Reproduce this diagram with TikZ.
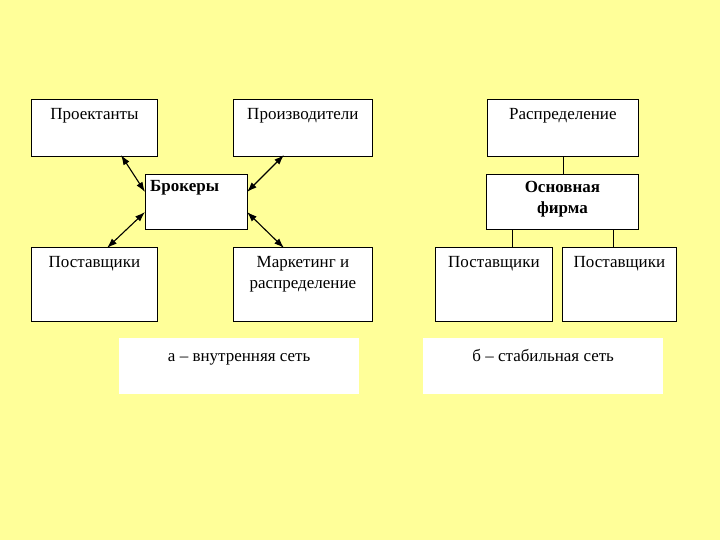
\documentclass[tikz,border=0pt]{standalone}
\usepackage{fontspec}
\setmainfont{Liberation Serif}
\usetikzlibrary{arrows.meta}
\begin{document}
\begin{tikzpicture}[x=1pt,y=-1pt,
  box/.style={draw,fill=white,line width=0.8pt,anchor=north west,inner sep=0pt},
  lbl/.style={font=\fontsize{17}{21}\selectfont,align=center,anchor=north,inner sep=0pt},
  wbox/.style={fill=white,anchor=north west,inner sep=0pt},
  conn/.style={line width=1.1pt,{Latex[length=10pt,width=7pt]}-{Latex[length=10pt,width=7pt]}},
  ln/.style={line width=0.8pt}]
\fill[fill={rgb,255:red,255;green,255;blue,153}] (0,0) rectangle (720,540);
\useasboundingbox (0,0) rectangle (720,540);
% left
\node[box,minimum width=126,minimum height=57] (pr) at (31,99) {};
\node[lbl] (prt) at ([yshift=-9]pr.north) {Проектанты};
\node[box,minimum width=139,minimum height=57] (pd) at (233,99) {};
\node[lbl] (pdt) at ([yshift=-9]pd.north) {Производители};
\node[box,minimum width=102,minimum height=55] (br) at (145,174) {};
\node[lbl,font=\fontsize{17}{21}\selectfont\bfseries,anchor=north west] (brt) at (150,180) {Брокеры};
\node[box,minimum width=126,minimum height=74] (ps) at (31,247) {};
\node[lbl] (pst) at ([yshift=-9]ps.north) {Поставщики};
\node[box,minimum width=139,minimum height=74] (mk) at (233,247) {};
\node[lbl] (mkt) at ([yshift=-9]mk.north) {Маркетинг и\\распределение};
\node[wbox,minimum width=240,minimum height=56] (a) at (119,338) {};
\node[lbl,anchor=base] (at) at ([yshift=-23]a.north) {а – внутренняя сеть};
\coordinate (c1) at (121,155); \coordinate (c2) at (145,192);
\coordinate (c3) at (107,248); \coordinate (c4) at (145,212);
\coordinate (c5) at (284,155); \coordinate (c6) at (247,192);
\coordinate (c7) at (284,248); \coordinate (c8) at (247,212);
\draw[conn] (c1) -- (c2);
\draw[conn] (c3) -- (c4);
\draw[conn] (c5) -- (c6);
\draw[conn] (c7) -- (c8);
% right
\node[box,minimum width=151,minimum height=57] (rs) at (487,99) {};
\node[lbl] (rst) at ([yshift=-9]rs.north) {Распределение};
\node[box,minimum width=152,minimum height=55] (of) at (486,174) {};
\node[lbl,font=\fontsize{17}{21}\selectfont\bfseries] (oft) at ([yshift=-7]of.north) {Основная\\фирма};
\node[box,minimum width=117,minimum height=74] (p1) at (435,247) {};
\node[lbl] (p1t) at ([yshift=-9]p1.north) {Поставщики};
\node[box,minimum width=114,minimum height=74] (p2) at (562,247) {};
\node[lbl] (p2t) at ([yshift=-9]p2.north) {Поставщики};
\node[wbox,minimum width=240,minimum height=56] (b) at (423,338) {};
\node[lbl,anchor=base] (bt) at ([yshift=-23]b.north) {б – стабильная сеть};
\draw[ln] (rs.south -| 563,0) -- (of.north -| 563,0);
\draw[ln] (of.south -| 512,0) -- (p1.north -| 512,0);
\draw[ln] (of.south -| 613,0) -- (p2.north -| 613,0);
\end{tikzpicture}
\end{document}
